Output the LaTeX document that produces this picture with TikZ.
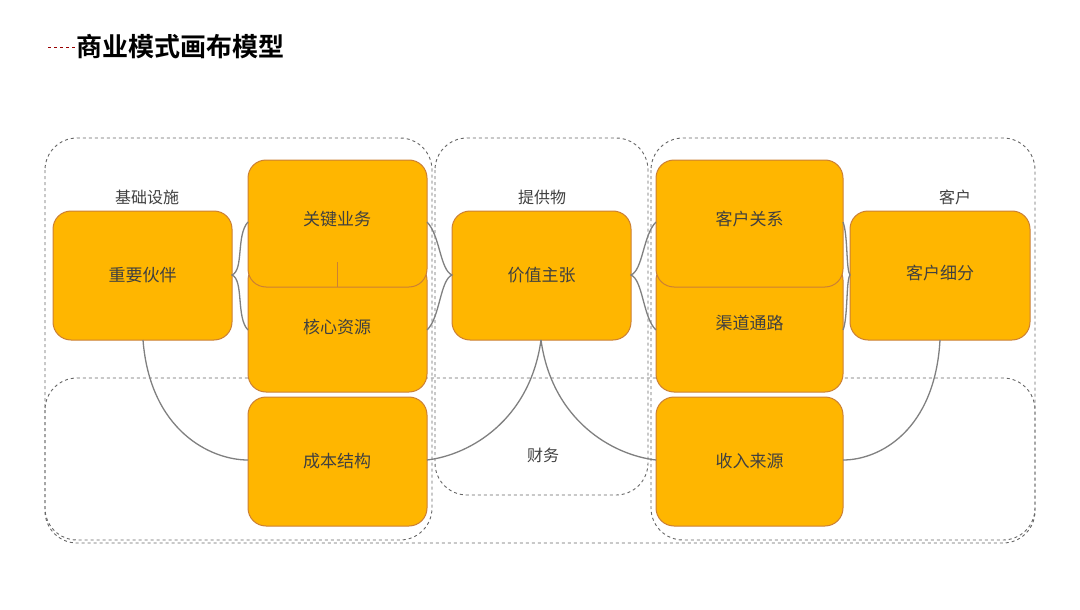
\documentclass[tikz,border=0pt]{standalone}
\usepackage{fontspec}
\setmainfont{Noto Sans CJK SC}
\newfontfamily\cjkbold{Noto Sans CJK SC Bold}
\begin{document}
\begin{tikzpicture}[x=1pt,y=-1pt,
  box/.style={draw=brown!80!orange,line width=1pt,fill=orange!50!yellow!95!red,rounded corners=18pt},
  region/.style={draw=black!60,dashed,line width=0.9pt,rounded corners=32pt},
  lbl/.style={font=\fontsize{17}{20}\selectfont,text=black!75},
  conn/.style={draw=gray,line width=1.3pt}]
\useasboundingbox (0,0) rectangle (1080,610);
\fill[white] (0,0) rectangle (1080,610);
% title
\draw[red!60!black,dashed,line width=0.8pt] (48,47) -- (75,47);
\node[anchor=west,inner sep=0pt,font=\cjkbold\fontsize{26}{30}\selectfont] (title) at (76,47) {商业模式画布模型};
% regions
\draw[region] (45,138) rectangle (432,540);
\draw[region] (435,138) rectangle (648,495);
\draw[region] (651,138) rectangle (1035,540);
\draw[region] (45,378) rectangle (1035,543);
% boxes
\path[box] (53,211) rectangle (232,340); \node[lbl] (pp) at (142.5,275) {重要伙伴};
\path[box] (248,262) rectangle (427,392); \node[lbl] (kr) at (337,327) {核心资源};
\path[box] (248,160) rectangle (427,287); \node[lbl] (ka) at (337,219) {关键业务};
\draw[brown!80!orange,line width=1pt] (337,262) -- (337,287);
\path[box] (248,397) rectangle (427,526); \node[lbl] (cs) at (337,461) {成本结构};
\path[box] (452,211) rectangle (631,340); \node[lbl] (vp) at (541.5,275) {价值主张};
\path[box] (656,262) rectangle (843,392); \node[lbl] (ch) at (749.5,323) {渠道通路};
\path[box] (656,160) rectangle (843,287); \node[lbl] (cr) at (749.5,219) {客户关系};
\path[box] (850,211) rectangle (1030,340); \node[lbl] (seg) at (940,273) {客户细分};
\path[box] (656,397) rectangle (843,526); \node[lbl] (rs) at (749.5,461) {收入来源};
% labels
\node[lbl,font=\fontsize{16}{19}\selectfont] (l1) at (147,197) {基础设施};
\node[lbl,font=\fontsize{16}{19}\selectfont] (l2) at (542,197) {提供物};
\node[lbl,font=\fontsize{16}{19}\selectfont] (l3) at (955,197) {客户};
\node[lbl,font=\fontsize{16}{19}\selectfont] (l4) at (543,455) {财务};
% connectors
\coordinate (ppS) at (143,340); \coordinate (csW) at (248,460);
\coordinate (vpS) at (541,340); \coordinate (csE) at (427,460); \coordinate (rsW) at (656,460);
\coordinate (segS) at (940,340); \coordinate (rsE) at (843,460);
\draw[conn] (ppS) .. controls (150,430) and (210,460) .. (csW);
\draw[conn] (vpS) .. controls (530,420) and (470,455) .. (csE);
\draw[conn] (vpS) .. controls (552,420) and (612,455) .. (rsW);
\draw[conn] (segS) .. controls (935,430) and (880,460) .. (rsE);
\coordinate (ppE) at (232,275); \coordinate (vpW) at (452,275); \coordinate (vpE) at (631,275); \coordinate (segW) at (850,275);
\draw[conn] (248,222) .. controls (236,235) and (244,270) .. (ppE) .. controls (244,280) and (236,318) .. (248,330);
\draw[conn] (427,222) .. controls (440,235) and (440,270) .. (vpW) .. controls (440,280) and (440,318) .. (427,330);
\draw[conn] (656,222) .. controls (643,235) and (643,270) .. (vpE) .. controls (643,280) and (643,318) .. (656,330);
\draw[conn] (843,222) .. controls (848,235) and (846,270) .. (segW) .. controls (846,280) and (848,318) .. (843,330);
\end{tikzpicture}
\end{document}
